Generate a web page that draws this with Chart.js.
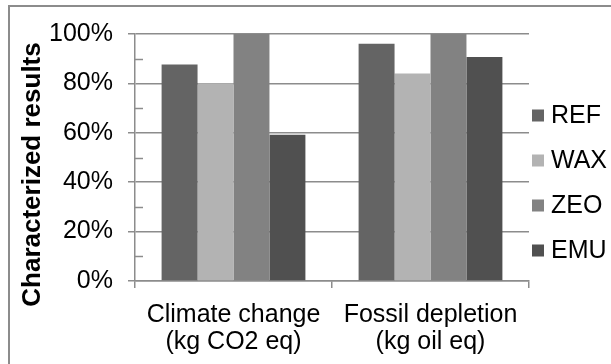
<!DOCTYPE html>
<html>
<head>
<meta charset="utf-8">
<script src="https://cdn.jsdelivr.net/npm/chart.js@4/dist/chart.umd.min.js"></script>
<style>
  html, body { margin: 0; padding: 0; background: #fff; }
  #wrap { position: relative; width: 611px; height: 364px; overflow: hidden; }
  #frame { position: absolute; left: 8px; top: 5px; width: 700px; height: 400px; border: 2px solid #8c8c8c; box-sizing: border-box; }
  #chart { position: absolute; left: 0; top: 0; }
</style>
</head>
<body>
<div id="wrap">
  <div id="frame"></div>
  <canvas id="chart" width="611" height="364"></canvas>
</div>
<script>
const categories = [['Climate change', '(kg CO2 eq)'], ['Fossil depletion', '(kg oil eq)']];
const seriesNames = ['REF', 'WAX', 'ZEO', 'EMU'];
const refValues = [87.7, 96.1];
const waxValues = [80.1, 84.0];
const zeoValues = [100, 100];
const emuValues = [59.2, 90.7];
const yTicks = [0, 20, 40, 60, 80, 100];
const minorTicks = [10, 30, 50, 70, 90];
const yTitle = 'Characterized results';

const colors = ['#646464', '#b3b3b3', '#828282', '#505050'];
const lineGray = '#8c8c8c';
const fontFamily = '"Liberation Sans", Arial, sans-serif';

// minor tick marks on the inside of the value axis
const minorTickPlugin = {
    id: 'minorTicks',
    afterDraw(chart) {
        const y = chart.scales.y;
        const ctx = chart.ctx;
        ctx.save();
        ctx.strokeStyle = lineGray;
        ctx.lineWidth = 1.5;
        minorTicks.forEach(v => {
            const py = Math.round(y.getPixelForValue(v)) + 0.5;
            ctx.beginPath();
            ctx.moveTo(chart.chartArea.left, py);
            ctx.lineTo(chart.chartArea.left + 8, py);
            ctx.stroke();
        });
        ctx.restore();
    }
};

// rotated value-axis title, sitting a bit below the axis middle like the original
const axisTitlePlugin = {
    id: 'axisTitle',
    afterDraw(chart) {
        const ctx = chart.ctx;
        const area = chart.chartArea;
        ctx.save();
        ctx.translate(33, (area.top + area.bottom) / 2 + 17);
        ctx.rotate(-Math.PI / 2);
        ctx.font = 'bold 26px ' + fontFamily;
        ctx.fillStyle = '#000';
        ctx.textAlign = 'center';
        ctx.textBaseline = 'middle';
        ctx.fillText(yTitle, 0, 0);
        ctx.restore();
    }
};

// legend drawn to the right of the plot, from the dataset labels and colours
const sideLegendPlugin = {
    id: 'sideLegend',
    afterDraw(chart) {
        const ctx = chart.ctx;
        const sets = chart.data.datasets;
        const step = 45;
        const x = chart.chartArea.right + 3;
        let cy = chart.height / 2 - step * (sets.length - 1) / 2 + 1;
        ctx.save();
        ctx.font = '25px ' + fontFamily;
        ctx.textBaseline = 'middle';
        ctx.textAlign = 'left';
        sets.forEach(ds => {
            ctx.fillStyle = ds.backgroundColor;
            ctx.fillRect(x, cy - 6, 12, 12);
            ctx.fillStyle = '#000';
            ctx.fillText(ds.label, x + 19, cy + 1);
            cy += step;
        });
        ctx.restore();
    }
};

const seriesValues = [refValues, waxValues, zeoValues, emuValues];

new Chart(document.getElementById('chart'), {
    type: 'bar',
    data: {
        labels: categories,
        datasets: seriesNames.map((name, i) => ({
            label: name,
            data: seriesValues[i],
            backgroundColor: colors[i],
            borderWidth: 0,
            categoryPercentage: 0.73,
            barPercentage: 1
        }))
    },
    options: {
        responsive: false,
        animation: false,
        layout: { padding: { left: 0, top: 34, right: 82, bottom: 0 } },
        plugins: {
            legend: { display: false },
            tooltip: { enabled: false }
        },
        scales: {
            x: {
                afterFit(scale) {
                    scale.height = 83;
                },
                grid: {
                    offset: true,
                    drawOnChartArea: false,
                    tickLength: 7,
                    color: lineGray,
                    lineWidth: 1.5
                },
                border: { display: true, color: lineGray, width: 1.5 },
                ticks: {
                    color: '#000',
                    padding: 14,
                    font: { family: fontFamily, size: 25, lineHeight: 1.08 }
                }
            },
            y: {
                min: 0,
                max: 100,
                afterBuildTicks(scale) {
                    scale.ticks = yTicks.map(v => ({ value: v }));
                },
                afterFit(scale) {
                    scale.width = 135;
                },
                grid: {
                    color: lineGray,
                    lineWidth: 1.5,
                    tickLength: 7
                },
                border: { display: true, color: lineGray, width: 1.5 },
                ticks: {
                    color: '#000',
                    padding: 15,
                    font: { family: fontFamily, size: 25 },
                    callback: v => v + '%'
                }
            }
        }
    },
    plugins: [minorTickPlugin, axisTitlePlugin, sideLegendPlugin]
});
</script>
</body>
</html>
